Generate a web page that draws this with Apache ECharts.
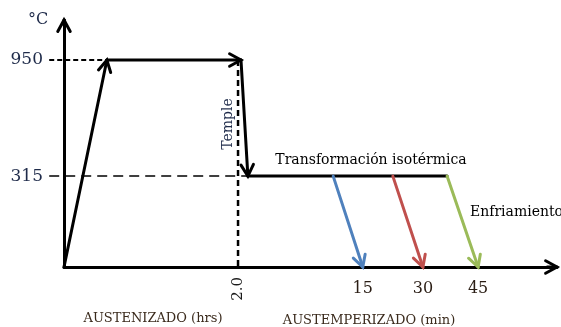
<!DOCTYPE html>
<html><head><meta charset="utf-8">
<script src="https://cdn.jsdelivr.net/npm/echarts@6/dist/echarts.min.js"></script>
<style>html,body{margin:0;padding:0;background:#fff}#c{width:561px;height:327px}</style>
</head><body><div id="c"></div>
<script>
// Schematic axes (diagram is not to scale): x in schematic time units, y in schematic height units
const tempLabels = ['315', '950'];
const tempLevels = [36.8, 83.8];
const hourLabels = ['2.0'];
const hourPos = [35.3];
const minLabels = ['15', '30', '45'];
const minPos = [60.6, 72.8, 84.0];

// Heat-treatment path (solid black), as [x1, y1, x2, y2, arrow]
const pathStartX = [0, 8.7, 35.9, 37.3];
const pathStartY = [0, 83.8, 83.8, 36.8];
const pathEndX   = [8.7, 35.9, 37.3, 77.7];
const pathEndY   = [83.8, 83.8, 36.8, 36.8];
const pathArrow  = [1, 1, 1, 0];

// Cooling arrows (15, 30, 45 min)
const coolStartX = [54.6, 66.7, 77.7];
const coolEndX   = [60.6, 72.8, 84.0];
const coolTopY = 36.8, coolBottomY = 0;
const coolColors = ['#4F81BD', '#C0504D', '#9BBB59'];

// Reference dashed lines
const dashStartX = [-3, -3, 35.3];
const dashStartY = [83.8, 36.8, 83.8];
const dashEndX   = [8.7, 37.3, 35.3];
const dashEndY   = [83.8, 36.8, 0];
const dashPatterns = [[5, 3], [10, 6], [6, 4]];
const dashWidths = [2, 1.5, 2.5];

const X_MAX = 100, Y_MAX = 100;
const serif = '"DejaVu Serif", "Liberation Serif", serif';

function chevron(p1, p2, L, ang) {
  const dx = p2[0] - p1[0], dy = p2[1] - p1[1];
  const len = Math.hypot(dx, dy) || 1;
  const ux = dx / len, uy = dy / len;
  const rot = (a) => [ux * Math.cos(a) - uy * Math.sin(a), ux * Math.sin(a) + uy * Math.cos(a)];
  const r1 = rot(ang), r2 = rot(-ang);
  return [[p2[0] - L * r1[0], p2[1] - L * r1[1]], p2, [p2[0] - L * r2[0], p2[1] - L * r2[1]]];
}

function segRenderer(getStyle) {
  return function (params, api) {
    const p1 = api.coord([api.value(0), api.value(1)]);
    const p2 = api.coord([api.value(2), api.value(3)]);
    const arrow = api.value(4);
    const st = getStyle(params.dataIndex);
    const children = [{
      type: 'line', shape: { x1: p1[0], y1: p1[1], x2: p2[0], y2: p2[1] },
      style: { stroke: st.color, lineWidth: st.width, lineDash: st.dash || null, lineCap: st.dash ? 'butt' : 'round' }
    }];
    if (arrow) {
      children.push({
        type: 'polyline', shape: { points: chevron(p1, p2, st.head || 12, 0.5) },
        style: { stroke: st.color, lineWidth: st.width, fill: null, lineJoin: 'miter', lineCap: 'round' }
      });
    }
    return { type: 'group', children };
  };
}

const pathData = pathStartX.map((x, i) => [x, pathStartY[i], pathEndX[i], pathEndY[i], pathArrow[i]]);
const coolData = coolStartX.map((x, i) => [x, coolTopY, coolEndX[i], coolBottomY, 1]);
const dashData = dashStartX.map((x, i) => [x, dashStartY[i], dashEndX[i], dashEndY[i], 0]);
const axisArrowData = [[X_MAX - 2, 0, X_MAX, 0, 1], [0, Y_MAX - 2, 0, Y_MAX, 1]];

const chart = echarts.init(document.getElementById('c'), null, { renderer: 'canvas' });
chart.setOption({
  animation: false,
  grid: { left: 64, right: 4, top: 20, bottom: 60, containLabel: false },
  xAxis: [{
    type: 'value', min: 0, max: X_MAX, position: 'bottom',
    axisLine: { show: true, lineStyle: { color: '#000', width: 3 } },
    axisTick: { show: false }, splitLine: { show: false },
    axisLabel: {
      customValues: hourPos, rotate: 90, margin: 10,
      formatter: (v) => hourLabels[hourPos.indexOf(v)] || '',
      color: '#1b1b1b', fontFamily: serif, fontSize: 15
    }
  }, {
    type: 'value', min: 0, max: X_MAX, position: 'bottom',
    axisLine: { show: false }, axisTick: { show: false }, splitLine: { show: false },
    axisLabel: {
      customValues: minPos, margin: 14,
      formatter: (v) => minLabels[minPos.indexOf(v)] || '',
      color: '#2a1d14', fontFamily: serif, fontSize: 16
    }
  }],
  yAxis: {
    type: 'value', min: 0, max: Y_MAX,
    axisLine: { show: true, lineStyle: { color: '#000', width: 3 } },
    axisTick: { show: false }, splitLine: { show: false },
    axisLabel: {
      customValues: tempLevels, margin: 21,
      formatter: (v) => tempLabels[tempLevels.indexOf(v)] || '',
      color: '#1f2b4a', fontFamily: serif, fontSize: 17
    }
  },
  series: [
    { type: 'custom', clip: false, data: dashData, z: 2,
      renderItem: segRenderer((i) => ({ color: '#000', width: dashWidths[i], dash: dashPatterns[i] })) },
    { type: 'custom', clip: false, data: pathData, z: 3,
      renderItem: segRenderer(() => ({ color: '#000', width: 3, head: 13 })) },
    { type: 'custom', clip: false, data: coolData, z: 3,
      renderItem: segRenderer((i) => ({ color: coolColors[i], width: 3, head: 13 })) },
    { type: 'custom', clip: false, data: axisArrowData, z: 4,
      renderItem: segRenderer(() => ({ color: '#000', width: 3, head: 13 })) }
  ],
  graphic: [
    { type: 'text', left: 28, top: 12, style: { text: '°C', font: '16px ' + serif, fill: '#1f2b4a' } },
    { type: 'text', x: 371, y: 160, style: { text: 'Transformación isotérmica', font: '14px ' + serif, fill: '#000', align: 'center', verticalAlign: 'middle' } },
    { type: 'text', x: 470, y: 212, style: { text: 'Enfriamiento', font: '14px ' + serif, fill: '#000', align: 'left', verticalAlign: 'middle' } },
    { type: 'text', x: 228, y: 124, rotation: Math.PI / 2, style: { text: 'Temple', font: '14px ' + serif, fill: '#1f2b4a', align: 'center', verticalAlign: 'middle' } },
    { type: 'text', x: 153, y: 319, style: { text: 'AUSTENIZADO (hrs)', font: '13px ' + serif, fill: '#3a2a1c', align: 'center', verticalAlign: 'middle' } },
    { type: 'text', x: 369, y: 321, style: { text: 'AUSTEMPERIZADO (min)', font: '13px ' + serif, fill: '#3a2a1c', align: 'center', verticalAlign: 'middle' } }
  ]
});
</script></body></html>
